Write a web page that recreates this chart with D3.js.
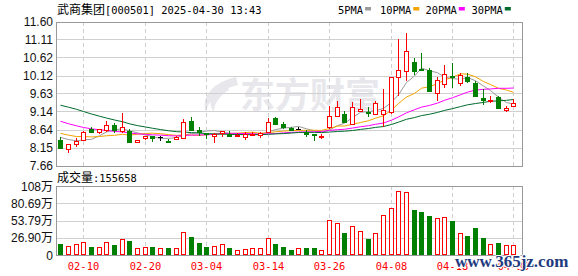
<!DOCTYPE html>
<html><head><meta charset="utf-8">
<script src="https://cdn.jsdelivr.net/npm/d3@7/dist/d3.min.js"></script>
<style>body{margin:0;background:#fff;} svg{display:block;}</style>
</head><body><svg id="c" width="578" height="276"></svg>
<script>
const dates = ["02-05","02-06","02-07","02-10","02-11","02-12","02-13","02-14","02-17","02-18","02-19","02-20","02-21","02-24","02-25","02-26","02-27","02-28",
"03-03","03-04","03-05","03-06","03-07","03-10","03-11","03-12","03-13","03-14","03-17","03-18","03-19","03-20","03-21","03-24","03-25","03-26","03-27","03-28","03-31",
"04-01","04-02","04-03","04-07","04-08","04-09","04-10","04-11","04-14","04-15","04-16","04-17","04-18","04-21","04-22","04-23","04-24","04-25","04-28","04-29","04-30"];
const open  = [8.37,8.12,8.25,8.35,8.65,8.58,8.64,8.78,8.60,8.61, 8.31,8.40,8.46,8.43,8.34,8.38,8.42,8.87,8.63,8.54, 8.48,8.54,8.53,8.46,8.43,8.50,8.49,8.58,8.96,8.79, 8.69,8.67,8.58,8.52,8.45,8.70,9.02,9.06,8.79,9.16, 9.13,9.06,9.06,9.13,10.08,10.25,10.48,10.31,10.27,9.63, 9.90,10.10,9.92,10.07,9.92,9.50,9.44,9.54,9.17,9.30];
const high  = [8.43,8.25,8.41,8.60,8.70,8.65,8.87,8.81,9.10,8.65, 8.37,8.47,8.46,8.48,8.39,8.46,8.93,8.98,8.70,8.55, 8.54,8.60,8.61,8.55,8.57,8.57,8.57,8.96,8.99,8.84, 8.72,8.72,8.63,8.52,8.51,9.29,9.42,9.16,9.40,9.47, 9.25,9.42,9.74,10.08,11.11,11.28,10.60,10.74,10.33,10.07, 10.40,10.46,10.18,10.18,9.96,9.75,9.55,9.56,9.28,9.47];
const low   = [8.13,8.01,8.17,8.33,8.55,8.53,8.57,8.56,8.54,8.28, 8.28,8.37,8.31,8.33,8.28,8.36,8.39,8.62,8.47,8.39, 8.28,8.43,8.45,8.43,8.36,8.46,8.42,8.54,8.77,8.65, 8.62,8.62,8.45,8.34,8.39,8.65,8.99,8.81,8.76,9.13, 8.99,9.04,8.72,9.07,9.56,9.96,10.13,10.25,9.66,9.43, 9.78,9.79,9.84,9.92,9.54,9.31,9.36,9.20,9.13,9.29];
const close = [8.15,8.25,8.33,8.58,8.57,8.65,8.76,8.62,8.72,8.29, 8.37,8.47,8.42,8.43,8.33,8.44,8.84,8.64,8.58,8.51, 8.52,8.60,8.48,8.50,8.51,8.53,8.54,8.84,8.79,8.72, 8.63,8.67,8.51,8.51,8.46,9.02,9.25,8.85,9.26,9.20, 9.12,9.36,9.17,10.08,10.26,10.78,10.25,10.26,9.70,10.01, 10.16,10.07,10.13,9.97,9.56,9.45,9.45,9.22,9.23,9.37];
// volume in 万
const volume = [17.4,14.8,16.9,20.0,12.7,12.2,20.0,15.9,24.7,22.1, 10.7,12.2,12.7,10.7,11.2,11.2,35.5,28.3,19.0,12.7, 13.8,16.9,11.2,7.6,9.1,10.7,10.7,26.2,17.4,12.7, 8.1,10.7,11.2,11.2,7.6,54.2,50.1,34.5,44.9,38.1, 25.2,34.5,62.5,72.9,99.3,97.8,70.3,66.7,61.0,57.3, 58.9,53.2,34.0,29.9,42.3,26.2,17.4,18.5,15.3,15.5658];
// closes before the visible window (estimated, used only by the moving averages)
const prevCloses = [9.90,10.05,10.40,10.60,10.45,10.30,10.20,10.15,10.00,9.85, 9.60,9.45,9.50,9.30,9.20,9.10,9.15,9.00,8.90,8.80, 8.75,8.70,8.60,8.65,8.55, 8.55,8.50,8.45,8.50];
const priceTicks = [7.66,8.15,8.64,9.14,9.63,10.12,10.62,11.11,11.60];
const priceTickLabels = ["7.66","8.15","8.64","9.14","9.63","10.12","10.62","11.11","11.60"];
const volTicks = [0,26.90,53.79,80.69,107.59];
const volTickLabels = ["0","26.90万","53.79万","80.69万","108万"];
const dateTicks = ["02-10","02-20","03-04","03-14","03-26","04-08","04-18","04-30"];
const maPeriods = [5,10,20,30];
const maNames = ["5PMA","10PMA","20PMA","30PMA"];
const maColors = ["#9a9a9a","#f4a400","#ff00ff","#006b2d"];
const titleName = "武商集团", titleRest = "[000501] 2025-04-30 13:43";
const volLabel = "成交量", volValue = ":155658";

const svg = d3.select("#c");
const L=56, R=522, T=21.5, B=165.5, VT=186, VB=255;
const RED="#ff0000", GRN="#008000";
const x = d3.scaleBand().domain(dates).range([56.5, 56.5+7.68*60]);
const cx = d => Math.round(x(d) + x.bandwidth()/2);
const y = d3.scaleLinear().domain([7.66,11.60]).range([B,T]);
const yv = d3.scaleLinear().domain([0,107.59]).range([VB,VT]);
const mono = "'DejaVu Sans Mono', 'Liberation Mono', monospace";
const cjk = "'Noto Sans CJK SC', sans-serif";
const sans = "'Liberation Sans', Arial, 'Noto Sans CJK SC', sans-serif";

// watermark
const wm = svg.append("g");
wm.append("path").attr("d","M236,77 C214,82 200,96 206,113 C208,100 218,90 238,85 Z M226,80 C210,90 207,102 214,112 C214,104 219,96 229,90 Z").attr("fill","#e8e8ec");
wm.append("text").attr("x",240).attr("y",108).attr("font-family",cjk).attr("font-weight","bold").attr("font-size",35).attr("fill","#e8e8ec").text("东方财富");

// grid
const g = svg.append("g").attr("shape-rendering","crispEdges");
priceTicks.slice(1,-1).forEach(t=>{
  g.append("line").attr("x1",L).attr("x2",R).attr("y1",Math.round(y(t))+0.5).attr("y2",Math.round(y(t))+0.5).attr("stroke","#d0d0d0");
});
volTicks.slice(1,-1).forEach(t=>{
  g.append("line").attr("x1",L).attr("x2",R).attr("y1",Math.round(yv(t))+0.5).attr("y2",Math.round(yv(t))+0.5).attr("stroke","#d0d0d0");
});
dateTicks.forEach(d=>{
  const xx = cx(d)+0.5;
  g.append("line").attr("x1",xx).attr("x2",xx).attr("y1",T).attr("y2",B).attr("stroke","#cfcfcf").attr("stroke-dasharray","4,3");
  g.append("line").attr("x1",xx).attr("x2",xx).attr("y1",VT).attr("y2",VB).attr("stroke","#cfcfcf").attr("stroke-dasharray","4,3");
});
// frames
[[T,B],[VT,VB]].forEach(([a,b])=>{
  g.append("rect").attr("x",L+0.5).attr("y",Math.round(a)+0.5).attr("width",R-L).attr("height",Math.round(b)-Math.round(a)).attr("fill","none").attr("stroke","#999");
});

// y labels
svg.append("g").selectAll("text").data(priceTicks).join("text")
  .attr("x",53).attr("y",d=>y(d)+4.5).attr("text-anchor","end")
  .attr("font-family",sans).attr("font-size",12).attr("fill","#111")
  .text((d,i)=>priceTickLabels[i]);
svg.append("g").selectAll("text").data(volTicks).join("text")
  .attr("x",53).attr("y",d=>yv(d)+4.5).attr("text-anchor","end")
  .attr("font-family",sans).attr("font-size",12).attr("fill","#111")
  .text((d,i)=>volTickLabels[i]);

// MA lines
const allC = prevCloses.concat(close);
const off = prevCloses.length;
maPeriods.forEach((p,k)=>{
  const vals = close.map((c,i)=>d3.mean(allC.slice(off+i-p+1, off+i+1)));
  svg.append("path").datum(vals)
    .attr("d", d3.line().x((v,i)=>cx(dates[i])+0.5).y(v=>y(v)))
    .attr("fill","none").attr("stroke",maColors[k]).attr("stroke-width",1);
});

// candles
const cg = svg.append("g").attr("shape-rendering","crispEdges");
dates.forEach((d,i)=>{
  const o=open[i], c=close[i], h=high[i], l=low[i];
  const xc = cx(d);
  const col = c>o ? RED : (c<o ? GRN : "#000");
  cg.append("line").attr("x1",xc+0.5).attr("x2",xc+0.5).attr("y1",y(h)).attr("y2",y(l)).attr("stroke",col);
  if (c===o) {
    const yy = Math.round(y(o))+0.5;
    cg.append("line").attr("x1",xc-2).attr("x2",xc+3).attr("y1",yy).attr("y2",yy).attr("stroke",col);
  } else {
    const yt = Math.round(y(Math.max(o,c)))+0.5, yb = Math.round(y(Math.min(o,c)))+0.5;
    cg.append("rect").attr("x",xc-1.5).attr("y",yt).attr("width",4).attr("height",Math.max(1,yb-yt))
      .attr("fill", c>o ? "#fff" : GRN).attr("stroke",col);
  }
  // volume
  const up = c>o || (c===o && c>=(i>0?close[i-1]:c));
  const vt = Math.round(yv(volume[i]))+0.5;
  cg.append("rect").attr("x",xc-1.5).attr("y",vt).attr("width",4).attr("height",Math.max(1,Math.round(yv(0))-vt-0.5))
    .attr("fill", up ? "#fff" : GRN).attr("stroke", up ? RED : GRN);
});

// x labels
svg.append("g").selectAll("text").data(dateTicks).join("text")
  .attr("x",d=>cx(d)+0.5).attr("y",270).attr("text-anchor","middle")
  .attr("font-family",mono).attr("font-size",10.4).attr("fill",RED).text(d=>d);

// title
const tt = svg.append("text").attr("x",57).attr("y",14).attr("fill","#000");
tt.append("tspan").attr("font-family",cjk).attr("font-size",12).text(titleName);
tt.append("tspan").attr("font-family",mono).attr("font-size",10.4).text(titleRest);

// legend
const legX = [338,380,425.5,471.5];
maNames.forEach((n,k)=>{
  svg.append("text").attr("x",legX[k]).attr("y",14).attr("font-family",mono).attr("font-size",10.4).attr("fill","#000").text(n);
  const w = n.length*6.26;
  svg.append("rect").attr("x",legX[k]+w+2).attr("y",7).attr("width",6).attr("height",3.5).attr("fill",maColors[k]);
});

// volume label
const vl = svg.append("text").attr("x",57).attr("y",182).attr("fill","#000");
vl.append("tspan").attr("font-family",cjk).attr("font-size",12).text(volLabel);
vl.append("tspan").attr("font-family",mono).attr("font-size",10.4).text(volValue);

// site watermark
svg.append("text").attr("x",455).attr("y",267).attr("font-family","'Liberation Serif', 'DejaVu Serif', serif")
  .attr("font-weight","bold").attr("font-size",17).attr("fill","#1f3b80")
  .attr("stroke","#ffffff").attr("stroke-width",2).attr("paint-order","stroke").text("www.365jz.com");
</script></body></html>
